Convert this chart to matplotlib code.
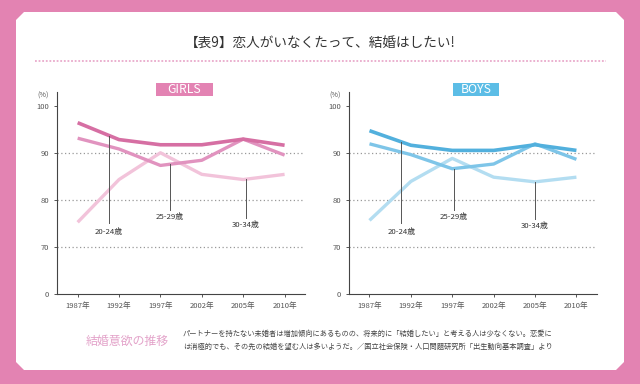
import numpy as np
import matplotlib
matplotlib.use("Agg")
import matplotlib.pyplot as plt
from matplotlib.patches import Polygon, Rectangle

plt.rcParams['font.family'] = ['Noto Sans CJK JP', 'DejaVu Sans']

years = ["1987年", "1992年", "1997年", "2002年", "2005年", "2010年"]
age_groups = ["20-24歳", "25-29歳", "30-34歳"]

# values (%)
girls_2024 = [96.5, 92.9, 91.8, 91.8, 93.0, 91.7]
girls_2529 = [93.2, 90.9, 87.4, 88.5, 93.0, 89.6]
girls_3034 = [75.3, 84.4, 90.1, 85.5, 84.4, 85.5]

boys_2024 = [94.8, 91.7, 90.6, 90.6, 91.8, 90.6]
boys_2529 = [92.0, 89.7, 86.7, 87.7, 92.0, 88.7]
boys_3034 = [75.7, 84.0, 88.9, 84.9, 83.9, 84.9]

yticks = [0, 70, 80, 90, 100]

frame_pink = "#e383b2"
girls_colors = ["#d66fa3", "#e193bf", "#f2c3da"]
boys_colors = ["#52b0dd", "#7ec5e8", "#b3ddf1"]


# broken axis: 0-70 squeezed into one band, 70-100 linear
def fwd(v):
    v = np.asarray(v, dtype=float)
    return np.where(v >= 70, (v - 60) / 10.0, v / 70.0)


def inv(u):
    u = np.asarray(u, dtype=float)
    return np.where(u >= 1, u * 10.0 + 60, u * 70.0)


fig = plt.figure(figsize=(6.4, 3.84), dpi=100)
fig.patch.set_facecolor(frame_pink)

# white panel with cut corners (pixel coords -> figure fraction)
W, H = 640.0, 384.0
pts = [(16, 20), (24, 12), (616, 12), (624, 20), (624, 362), (616, 370), (24, 370), (16, 362)]
panel = Polygon([(x / W, 1 - y / H) for x, y in pts], closed=True,
                transform=fig.transFigure, facecolor="white", edgecolor="none", zorder=-5)
fig.patches.append(panel)

fig.text(0.5, 1 - 44 / H, "【表9】恋人がいなくたって、結婚はしたい!", ha="center", va="center",
         fontsize=9.8, color="#333333")
fig.add_artist(plt.Line2D([35 / W, 606 / W], [1 - 61 / H, 1 - 61 / H], transform=fig.transFigure,
                          color="#e9aacb", linestyle=(0, (1, 1)), linewidth=1.3))


def draw_panel(left, series, colors, title, box_color, box_x, box_w, pointers):
    ax = fig.add_axes([left, 0.234, 0.388, 0.526])
    ax.set_facecolor("none")
    ax.set_yscale("function", functions=(fwd, inv))
    ax.set_ylim(0, 103)
    ax.set_xlim(-0.5, 5.5)
    x = np.arange(len(years))

    for yv in [70, 80, 90]:
        ax.axhline(yv, color="#999999", linestyle=(0, (1, 2)), linewidth=0.9, zorder=1)

    # lighter lines first, darkest on top
    for vals, c, lw in reversed(list(zip(series, colors, [2.6, 2.4, 2.4]))):
        ax.plot(x, vals, color=c, linewidth=lw, solid_capstyle="butt", zorder=3)

    for (px, bottom, label_y), vals, lab in zip(pointers, series, age_groups):
        top = np.interp(px, x, vals)
        ax.plot([px, px], [top, bottom], color="#555555", linewidth=0.7, zorder=4)
        ax.text(px, label_y, lab, ha="center", va="center", fontsize=5.6, color="#333333")

    ax.set_xticks(x)
    ax.set_xticklabels(years)
    ax.set_yticks(yticks)
    ax.set_yticklabels([str(t) for t in yticks])
    ax.tick_params(axis="both", labelsize=5.5, colors="#555555", length=2.5, width=0.7, pad=3)
    ax.minorticks_off()
    for s in ["top", "right"]:
        ax.spines[s].set_visible(False)
    for s in ["left", "bottom"]:
        ax.spines[s].set_color("#444444")
        ax.spines[s].set_linewidth(0.8)
    ax.text(-0.056, 0.985, "(%)", transform=ax.transAxes, ha="center", va="center",
            fontsize=5.2, color="#555555")

    fig.patches.append(Rectangle((box_x / W, 1 - 96 / H), box_w / W, 13 / H,
                                 transform=fig.transFigure, facecolor=box_color,
                                 edgecolor="none", zorder=1))
    fig.text((box_x + box_w / 2) / W, 1 - 89.5 / H, title, ha="center", va="center",
             fontsize=8.8, color="white", zorder=2)
    return ax


draw_panel(0.089, [girls_2024, girls_2529, girls_3034], girls_colors, "GIRLS", "#e383b3", 156, 57,
           [(0.76, 75.2, 73.3), (2.22, 78.0, 76.5), (4.06, 76.2, 74.7)])
draw_panel(0.545, [boys_2024, boys_2529, boys_3034], boys_colors, "BOYS", "#5cbde6", 453, 46,
           [(0.77, 75.2, 73.3), (2.04, 77.9, 76.4), (4.0, 76.0, 74.5)])

fig.text(86 / W, 1 - 341 / H, "結婚意欲の推移", ha="left", va="center", fontsize=8.6, color="#e3a2c9")
fig.text(183 / W, 1 - 334 / H,
         "パートナーを持たない未婚者は増加傾向にあるものの、将来的に「結婚したい」と考える人は少なくない。恋愛に",
         ha="left", va="center", fontsize=5.2, color="#444444")
fig.text(183 / W, 1 - 347 / H,
         "は消極的でも、その先の結婚を望む人は多いようだ。／国立社会保険・人口問題研究所「出生動向基本調査」より",
         ha="left", va="center", fontsize=5.2, color="#444444")

fig.savefig("out.png", dpi=100, facecolor=fig.get_facecolor())
